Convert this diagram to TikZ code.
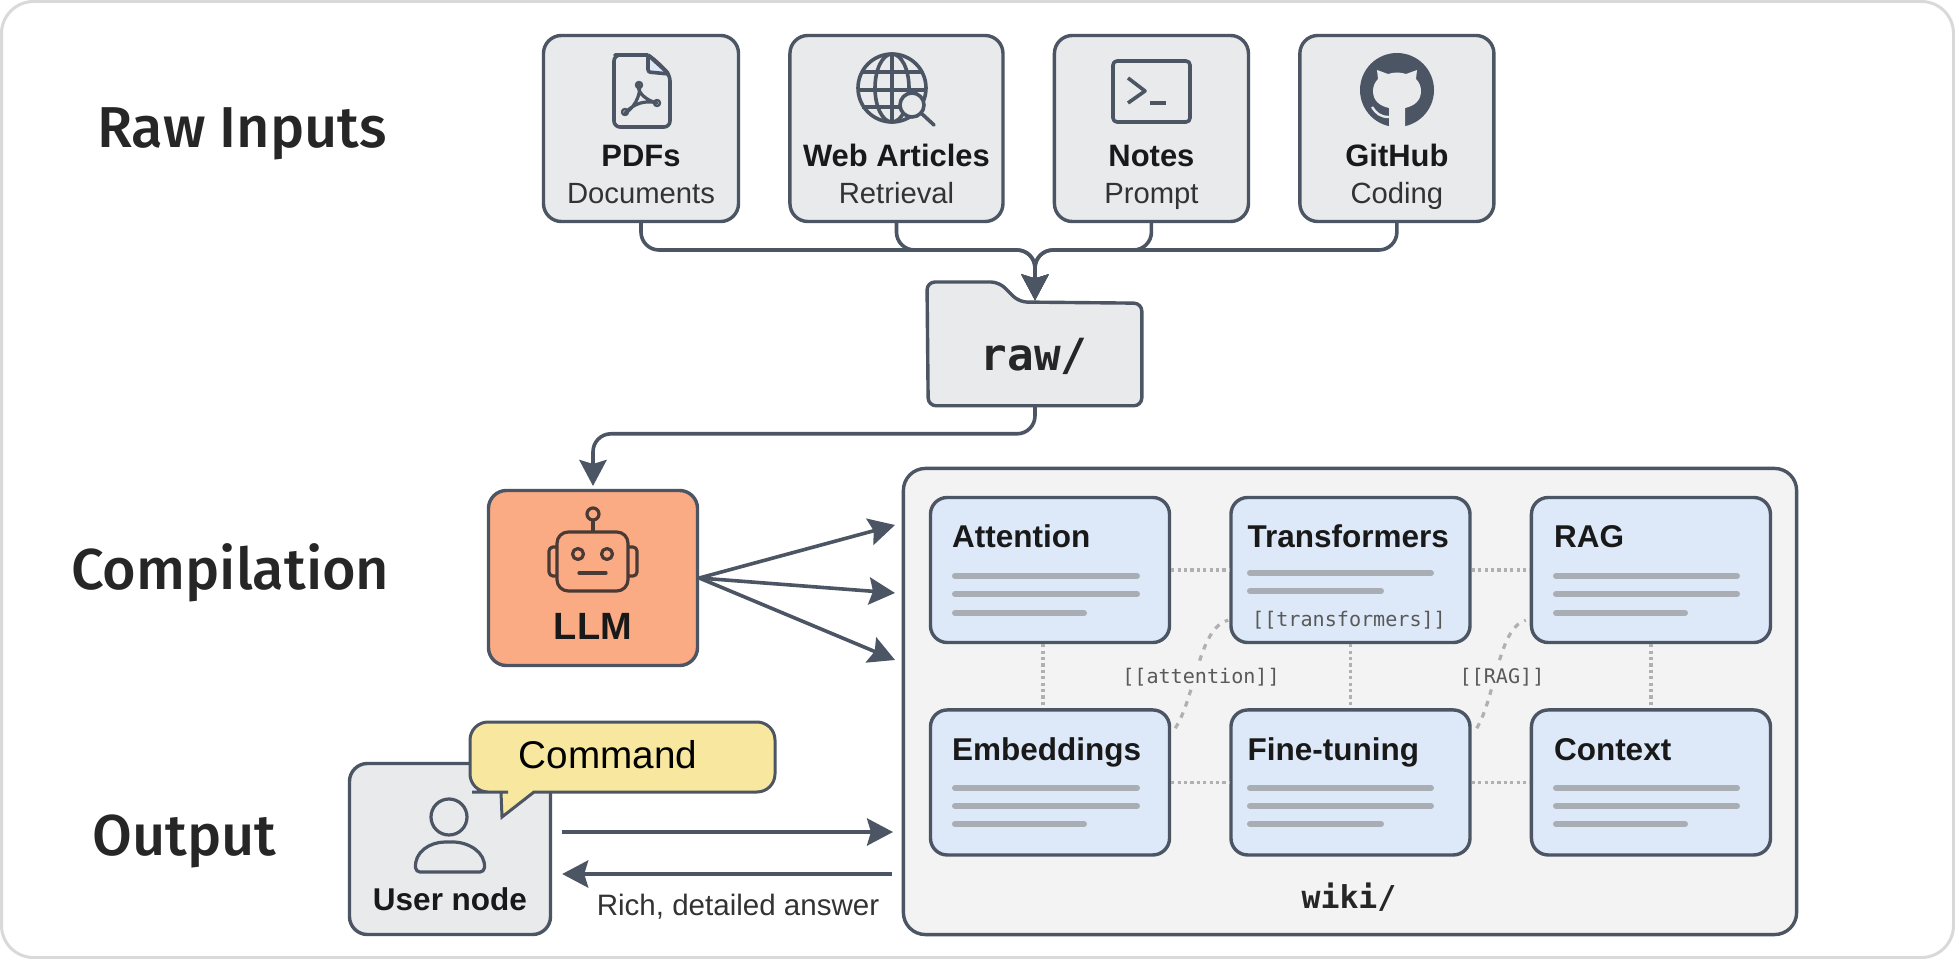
\documentclass[tikz,border=0pt]{standalone}
\usepackage{fontspec}
\setmainfont{Liberation Sans}
\setmonofont{DejaVu Sans Mono}
\newfontfamily\headfont{Fira Sans Medium}
\usepackage{xcolor}
\usepackage{tikz}
\usetikzlibrary{positioning,arrows.meta,calc}
\definecolor{slate}{HTML}{4B5563}
\definecolor{boxgray}{HTML}{E9EAEC}
\definecolor{panelgray}{HTML}{F3F3F3}
\definecolor{cardblue}{HTML}{DDE9F8}
\definecolor{llmorange}{HTML}{FBAB84}
\definecolor{bubbleyellow}{HTML}{F8E79E}
\definecolor{barcolor}{HTML}{A9AEB5}
\definecolor{linkgray}{HTML}{B0B0B0}
\definecolor{robotbrown}{HTML}{4A3A35}

\begin{document}
\begin{tikzpicture}[
  x=0.025cm, y=-0.025cm,
  node distance=1.2cm,
  outline/.style={draw=slate, line width=0.085cm},
  sourcebox/.style={rectangle, outline, fill=boxgray, minimum height=4.65cm, rounded corners=0.45cm},
  sourcename/.style={anchor=base, inner sep=0, font=\bfseries\fontsize{22}{24}\selectfont, text=black!90},
  sourcesub/.style={anchor=base, inner sep=0, font=\fontsize{20.8}{24}\selectfont, text=black!80},
  heading/.style={anchor=base west, inner sep=0, font=\headfont\fontsize{41}{48}\selectfont, text=black!85},
  card/.style={rectangle, outline, fill=cardblue, minimum width=5.975cm, minimum height=3.625cm, rounded corners=0.42cm},
  cardtitle/.style={anchor=base west, inner sep=0, font=\bfseries\fontsize{22.4}{26}\selectfont, text=black!90},
  bar/.style={barcolor, line width=0.15cm, line cap=round},
  wikilink/.style={linkgray, line width=0.09cm, dash pattern=on 0.08cm off 0.08cm},
  wikicurve/.style={linkgray, line width=0.08cm, dash pattern=on 0.14cm off 0.16cm},
  wikilabel/.style={anchor=base, inner sep=1pt, fill=panelgray, text=black!65, font=\ttfamily\fontsize{14.3}{18}\selectfont},
  arrow/.style={-{Stealth[length=0.65cm, width=0.68cm, inset=0.1cm]}, slate, line width=0.09cm},
  icon/.style={slate, line width=0.09cm, line join=round},
  roboticon/.style={robotbrown, line width=0.08cm, line join=round}
]
  % Page frame
  \useasboundingbox (0,0) rectangle (1955,959);
  \draw[draw=black!15, line width=0.075cm, rounded corners=0.8cm, fill=white] (1.5,1.5) rectangle (1953.5,957.5);

  % Row titles
  \node[heading] (rawinputs) at (97,148) {Raw Inputs};
  \node[heading] (compilation) at (71,589) {Compilation};
  \node[heading] (output) at (92,855) {Output};

  % Raw sources
  \node[sourcebox, minimum width=4.875cm] (pdfs) at (641,128.5) {};
  \node[sourcebox, minimum width=5.325cm, right=of pdfs] (web) {};
  \node[sourcebox, minimum width=4.85cm, right=of web] (notes) {};
  \node[sourcebox, minimum width=4.85cm, right=of notes] (github) {};

  \node[sourcename] (pdfsname) at ($(pdfs.north)+(0,133)$) {PDFs};
  \node[sourcesub] (pdfssub) at ($(pdfs.north)+(0,170)$) {Documents};
  \node[sourcename] (webname) at ($(web.north)+(0,133)$) {Web Articles};
  \node[sourcesub] (websub) at ($(web.north)+(0,170)$) {Retrieval};
  \node[sourcename] (notesname) at ($(notes.north)+(0,133)$) {Notes};
  \node[sourcesub] (notessub) at ($(notes.north)+(0,170)$) {Prompt};
  \node[sourcename] (githubname) at ($(github.north)+(0,133)$) {GitHub};
  \node[sourcesub] (githubsub) at ($(github.north)+(0,170)$) {Coding};

  % PDF icon
  \draw[icon, rounded corners=0.15cm] (648,55) -- (621,55) -- (614,55) -- (614,127) -- (670,127) -- (670,75) -- (655,60) [sharp corners] -- (648,55);
  \draw[icon, fill=cardblue, rounded corners=0.06cm] (648,55) -- (648,72) -- (669,74) -- cycle;
  \draw[icon, line width=0.08cm] (639,84) .. controls (636,90) and (644,100) .. (657,103) .. controls (646,100) and (634,103) .. (625,113) .. controls (632,110) and (642,96) .. (639,84) -- cycle;
  \draw[icon, line width=0.06cm] (639,85) circle[radius=3];
  \draw[icon, line width=0.06cm] (625,112) circle[radius=3];
  \draw[icon, line width=0.06cm] (657,103) circle[radius=3];

  % Globe icon
  \draw[icon, fill=boxgray] (892,88) circle[radius=34];
  \draw[icon] (892,88) ellipse[x radius=17, y radius=34];
  \draw[icon] (892,54) -- (892,122);
  \draw[icon] (862,72) -- (922,72);
  \draw[icon] (858,90) -- (926,90);
  \draw[icon] (862,107) -- (922,107);
  \draw[icon, fill=boxgray] (912,105) circle[radius=12];
  \draw[icon, line cap=round] (921,113) -- (934,125);

  % Terminal icon
  \draw[icon, rounded corners=0.1cm] (1113,61) rectangle (1190,122);
  \draw[icon] (1128,78) -- (1145,91) -- (1128,103);
  \draw[icon] (1150,103) -- (1166,103);

  % GitHub icon
  \fill[slate] (1397,90) circle[radius=37];
  \fill[boxgray] (1389,127.5) -- (1389,108) .. controls (1380,106) and (1373,101) .. (1373,91) .. controls (1373,86) and (1375,82) .. (1378,79) -- (1377,70) -- (1388,74) .. controls (1394,72) and (1400,72) .. (1406,74) -- (1417,70) -- (1416,79) .. controls (1419,82) and (1421,86) .. (1421,91) .. controls (1421,101) and (1414,106) .. (1405,108) -- (1405,127.5) -- cycle;
  \draw[boxgray, line width=0.06cm] (1372,107) .. controls (1376,113) and (1380,117) .. (1389,117);

  % raw folder
  \node[minimum width=5.325cm, minimum height=2.55cm, inner sep=0] (raw) at (1035,354.5) {};
  \draw[outline, fill=boxgray, rounded corners=0.2cm] (raw.south east) -- (raw.south west) -- (927,282) -- (999,282) -- (1019,302) -- (raw.north east) -- cycle;
  \node[anchor=base, inner sep=0, font=\ttfamily\bfseries\fontsize{31.5}{34}\selectfont, text=black!85] (rawlabel) at (1034,370) {raw/};

  % Wiki panel
  \node[rectangle, outline, fill=panelgray, minimum width=22.325cm, minimum height=11.65cm, rounded corners=0.55cm] (wiki) at (1350,701.5) {};

  % Wiki cards
  \node[card] (attention) at (1050,570) {};
  \node[card, right=1.45cm of attention] (transformers) {};
  \node[card, right=1.45cm of transformers] (rag) {};
  \node[card, below=1.6cm of attention] (embeddings) {};
  \node[card, right=1.45cm of embeddings] (finetuning) {};
  \node[card, right=1.45cm of finetuning] (context) {};

  \node[cardtitle] (attentiontitle) at ($(attention.north west)+(23,52)$) {Attention};
  \node[cardtitle] (transformerstitle) at ($(transformers.north west)+(18,52)$) {Transformers};
  \node[cardtitle] (ragtitle) at ($(rag.north west)+(24,52)$) {RAG};
  \node[cardtitle] (embeddingstitle) at ($(embeddings.north west)+(23,52)$) {Embeddings};
  \node[cardtitle] (finetuningtitle) at ($(finetuning.north west)+(18,52)$) {Fine-tuning};
  \node[cardtitle] (contexttitle) at ($(context.north west)+(24,52)$) {Context};

  % Grey text bars
  \draw[bar] (955,576) -- (1137,576);
  \draw[bar] (955,594) -- (1137,594);
  \draw[bar] (955,613) -- (1084,613);
  \draw[bar] (1250,573) -- (1431,573);
  \draw[bar] (1250,591) -- (1381,591);
  \draw[bar] (1556,576) -- (1737,576);
  \draw[bar] (1556,594) -- (1737,594);
  \draw[bar] (1556,613) -- (1685,613);
  \draw[bar] (955,788) -- (1137,788);
  \draw[bar] (955,806) -- (1137,806);
  \draw[bar] (955,824) -- (1084,824);
  \draw[bar] (1250,788) -- (1431,788);
  \draw[bar] (1250,806) -- (1431,806);
  \draw[bar] (1250,824) -- (1381,824);
  \draw[bar] (1556,788) -- (1737,788);
  \draw[bar] (1556,806) -- (1737,806);
  \draw[bar] (1556,824) -- (1685,824);

  % Wiki links
  \draw[wikilink] (attention) -- (transformers);
  \draw[wikilink] (transformers) -- (rag);
  \draw[wikilink] (embeddings) -- (finetuning);
  \draw[wikilink] (finetuning) -- (context);
  \draw[wikilink] ($(attention.south)+(-7,0)$) -- ($(embeddings.north)+(-7,0)$);
  \draw[wikilink] (transformers) -- (finetuning);
  \draw[wikilink] (rag) -- (context);
  \draw[wikicurve] ($(embeddings.north east)+(4,20)$) .. controls (1196,696) and (1198,628) .. ($(transformers.south west)+(-1,-24)$);
  \draw[wikicurve] ($(finetuning.north east)+(5,20)$) .. controls (1496,696) and (1498,628) .. ($(rag.south west)+(-4,-24)$);
  \node[wikilabel] (attentionlabel) at (1201,683) {[[attention]]};
  \node[wikilabel] (raglabel) at (1502,683) {[[RAG]]};
  \node[anchor=base, inner sep=0, text=black!65, font=\ttfamily\fontsize{14.3}{18}\selectfont] (transformerslabel) at (1349,626) {[[transformers]]};
  \node[anchor=base, inner sep=0, font=\ttfamily\bfseries\fontsize{22.4}{26}\selectfont, text=black!85] (wikilabel) at (1349,908) {wiki/};

  % LLM
  \node[rectangle, outline, fill=llmorange, minimum width=5.225cm, minimum height=4.375cm, rounded corners=0.45cm] (llm) at (593,578) {};
  \node[anchor=base, inner sep=0, font=\bfseries\fontsize{27}{30}\selectfont, text=black!90] (llmname) at (593,639) {LLM};
  \draw[roboticon] (593,514) circle[radius=6];
  \draw[roboticon] (593,520) -- (593,532);
  \draw[roboticon, rounded corners=0.28cm] (557,532) rectangle (628,591);
  \draw[roboticon, rounded corners=0.1cm] (557,547) -- (549,547) -- (549,576) -- (557,576);
  \draw[roboticon, rounded corners=0.1cm] (628,547) -- (637,547) -- (637,576) -- (628,576);
  \draw[roboticon] (578,554) circle[radius=5.5];
  \draw[roboticon] (607,554) circle[radius=5.5];
  \draw[roboticon, line cap=round] (579,573) -- (606,573);

  % Arrows from the sources to raw
  \coordinate (merge) at (raw.north |- 0,250);
  \draw[arrow, rounded corners=0.45cm, shorten >=0.07cm] (pdfs.south) |- (merge) -- (raw.north);
  \draw[arrow, rounded corners=0.45cm, shorten >=0.07cm] (web.south) |- (merge) -- (raw.north);
  \draw[arrow, rounded corners=0.45cm, shorten >=0.07cm] (notes.south) |- (merge) -- (raw.north);
  \draw[arrow, rounded corners=0.45cm, shorten >=0.07cm] (github.south) |- (merge) -- (raw.north);

  % raw to LLM
  \draw[arrow, rounded corners=0.45cm, shorten >=0.07cm] (raw.south) -- ++(0,28) -| (llm.north);

  % LLM to wiki
  \coordinate (wikiin1) at (895,525);
  \coordinate (wikiin2) at (895,593);
  \coordinate (wikiin3) at (895,660);
  \draw[arrow] (llm.east) -- (wikiin1);
  \draw[arrow] (llm.east) -- (wikiin2);
  \draw[arrow] (llm.east) -- (wikiin3);

  % User
  \node[rectangle, outline, fill=boxgray, minimum width=5.025cm, minimum height=4.275cm, rounded corners=0.45cm] (user) at (450,849) {};
  \node[anchor=base, inner sep=0, font=\bfseries\fontsize{22.4}{24}\selectfont, text=black!90] (username) at (450,910) {User node};
  \draw[icon, line width=0.08cm] (449,817) circle[radius=18];
  \draw[icon, line width=0.08cm, rounded corners=0.1cm] (416,872) .. controls (414,852) and (430,842) .. (449,842) .. controls (468,842) and (486,852) .. (484,872) -- cycle;

  % Command bubble
  \draw[draw=slate, line width=0.075cm, fill=bubbleyellow, rounded corners=0.45cm] (534,792) -- (775,792) -- (775,722) -- (470,722) -- (470,792) -- (490,792) [sharp corners] -- (501,792) -- (502,817) -- cycle;
  \node[anchor=base, inner sep=0, font=\fontsize{27.5}{30}\selectfont, text=black] (command) at (608,768) {Command};

  % Arrows between user and wiki
  \coordinate (wikisend) at (893,832);
  \coordinate (wikireply) at (892,874);
  \draw[arrow] ($(user.east)+(10,-17)$) -- (wikisend);
  \draw[arrow] (wikireply) -- ($(user.east)+(10,25)$);
  \node[anchor=base, inner sep=0, font=\fontsize{21}{22}\selectfont, text=black!80] (answer) at (738,915) {Rich, detailed answer};

\end{tikzpicture}
\end{document}
